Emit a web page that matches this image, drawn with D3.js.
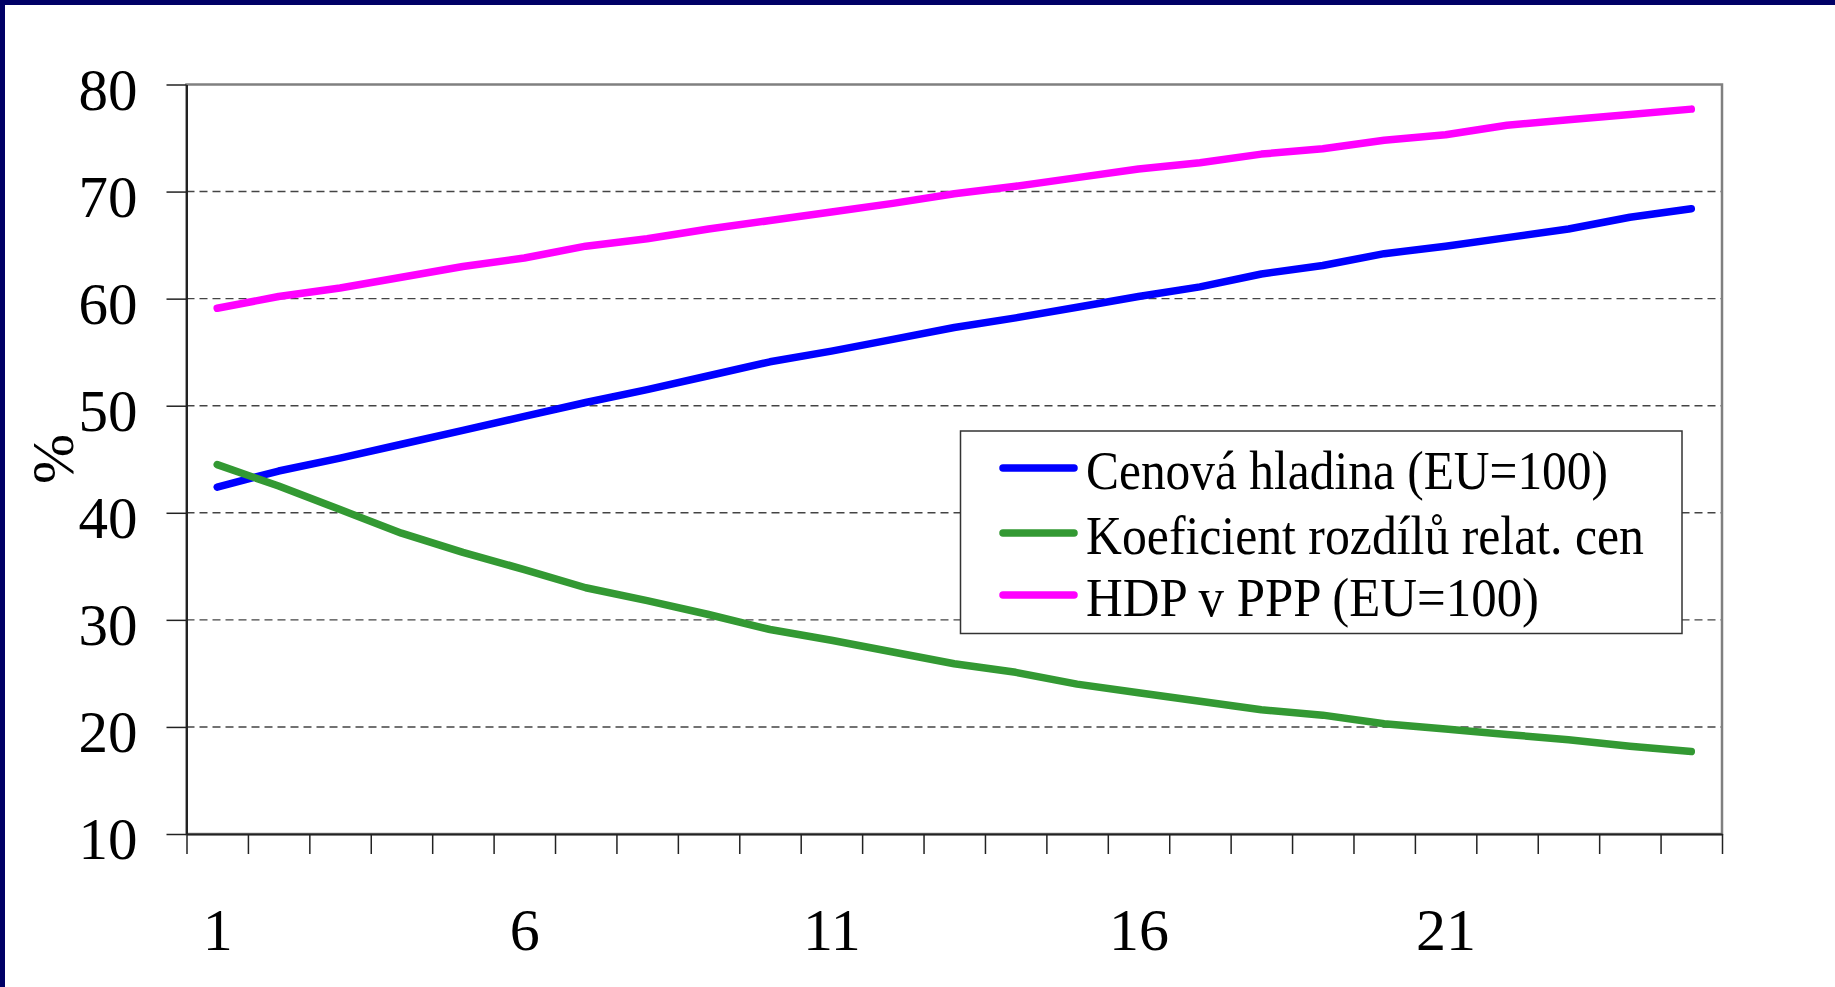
<!DOCTYPE html>
<html>
<head>
<meta charset="utf-8">
<script src="https://cdn.jsdelivr.net/npm/d3@7"></script>
<style>
  html, body { margin: 0; padding: 0; background: #fff; }
  svg { display: block; }
  text { font-family: "Liberation Serif", "Times New Roman", serif; fill: #000; }
</style>
</head>
<body>
<svg id="chart" width="1835" height="987"></svg>
<script>
// Period index (1..25)
const periods = d3.range(1, 26);
const xTickLabels = [1, 6, 11, 16, 21];
const yTicks = [10, 20, 30, 40, 50, 60, 70, 80];

const seriesNames = [
  "Cenová hladina (EU=100)",
  "Koeficient rozdílů relat. cen",
  "HDP v PPP (EU=100)"
];

// Price level relative to EU (EU=100)
const cenovaHladina = [42.4, 43.9, 45.1, 46.4, 47.7, 49.0, 50.3, 51.5, 52.8, 54.1,
                       55.1, 56.2, 57.3, 58.2, 59.2, 60.2, 61.1, 62.3, 63.1, 64.2,
                       64.9, 65.7, 66.5, 67.6, 68.4];
// Coefficient of relative price differences
const koeficient = [44.5, 42.5, 40.3, 38.1, 36.3, 34.7, 33.0, 31.8, 30.5, 29.1,
                    28.1, 27.0, 25.9, 25.1, 24.0, 23.2, 22.4, 21.6, 21.1, 20.3,
                    19.8, 19.3, 18.8, 18.2, 17.7];
// GDP in PPP relative to EU (EU=100)
const hdpPPP = [59.1, 60.2, 61.0, 62.0, 63.0, 63.8, 64.9, 65.6, 66.5, 67.3,
                68.1, 68.9, 69.8, 70.5, 71.3, 72.1, 72.7, 73.5, 74.0, 74.8,
                75.3, 76.2, 76.7, 77.2, 77.7];

const seriesColors = ["#0000ff", "#339933", "#ff00ff"];
const seriesValues = [cenovaHladina, koeficient, hdpPPP];

const svg = d3.select("#chart");
const W = 1835, H = 987;

// Slide frame: navy edge along top and left
svg.append("rect").attr("x", 0).attr("y", 0).attr("width", W).attr("height", H).attr("fill", "#fff");
svg.append("rect").attr("x", 0).attr("y", 0).attr("width", W).attr("height", 5).attr("fill", "#000066");
svg.append("rect").attr("x", 0).attr("y", 0).attr("width", 5).attr("height", H).attr("fill", "#000066");

const plot = { left: 186.5, right: 1722, top: 84.5, bottom: 834 };

// Categories sit in the middle of equal-width slots
const x = d3.scaleLinear().domain([0.5, 25.5]).range([plot.left, plot.right]);
const y = d3.scaleLinear().domain([10, 80]).range([plot.bottom, plot.top]);

// Dashed horizontal gridlines
svg.append("g")
  .selectAll("line")
  .data(yTicks.filter(v => v > 10 && v < 80))
  .join("line")
  .attr("x1", plot.left).attr("x2", plot.right)
  .attr("y1", d => y(d)).attr("y2", d => y(d))
  .attr("stroke", "#444").attr("stroke-width", 1.4)
  .attr("stroke-dasharray", "8,5");

// Plot area frame
svg.append("rect")
  .attr("x", plot.left).attr("y", plot.top)
  .attr("width", plot.right - plot.left).attr("height", plot.bottom - plot.top)
  .attr("fill", "none").attr("stroke", "#808080").attr("stroke-width", 2.5);

// Y axis
const yAxis = svg.append("g")
  .attr("transform", `translate(${plot.left},0)`)
  .call(d3.axisLeft(y).tickValues(yTicks).tickSize(20).tickPadding(29).tickSizeOuter(0));
yAxis.select(".domain").attr("stroke", "#222").attr("stroke-width", 2);
yAxis.selectAll(".tick line").attr("stroke", "#222").attr("stroke-width", 1.5);
yAxis.selectAll(".tick text")
  .attr("font-size", 59)
  .attr("font-family", "'Liberation Serif', 'Times New Roman', serif")
  .attr("dy", "0.42em");

// X axis: tick marks on slot boundaries
const xAxisTicks = svg.append("g")
  .attr("transform", `translate(0,${plot.bottom})`)
  .call(d3.axisBottom(x).tickValues(d3.range(0.5, 26, 1)).tickFormat("").tickSize(20).tickSizeOuter(0));
xAxisTicks.select(".domain").attr("stroke", "#222").attr("stroke-width", 2);
xAxisTicks.selectAll(".tick line").attr("stroke", "#222").attr("stroke-width", 1.5);

// X axis labels under every fifth period
const xAxisLabels = svg.append("g")
  .attr("transform", `translate(0,${plot.bottom})`)
  .call(d3.axisBottom(x).tickValues(xTickLabels).tickSize(0).tickPadding(73));
xAxisLabels.select(".domain").remove();
xAxisLabels.selectAll(".tick text")
  .attr("font-size", 60)
  .attr("font-family", "'Liberation Serif', 'Times New Roman', serif");

// Y axis title
svg.append("text")
  .attr("transform", "translate(73,459) rotate(-90)")
  .attr("text-anchor", "middle")
  .attr("font-size", 60)
  .text("%");

// Series lines
const line = d3.line()
  .x((d, i) => x(periods[i]))
  .y(d => y(d));

svg.append("g")
  .selectAll("path")
  .data(seriesValues)
  .join("path")
  .attr("d", d => line(d))
  .attr("fill", "none")
  .attr("stroke", (d, i) => seriesColors[i])
  .attr("stroke-width", 7.5)
  .attr("stroke-linecap", "round")
  .attr("stroke-linejoin", "round");

// Legend
const legend = svg.append("g");
legend.append("rect")
  .attr("x", 960.5).attr("y", 431)
  .attr("width", 721.5).attr("height", 202.5)
  .attr("fill", "#fff").attr("stroke", "#333").attr("stroke-width", 1.5);

const legendRowY = [468, 533, 595];
const legendTextWidth = [522, 558, 453];
const entries = legend.selectAll("g.entry")
  .data(seriesNames)
  .join("g")
  .attr("class", "entry");

entries.append("line")
  .attr("x1", 1003).attr("x2", 1074)
  .attr("y1", (d, i) => legendRowY[i]).attr("y2", (d, i) => legendRowY[i])
  .attr("stroke", (d, i) => seriesColors[i])
  .attr("stroke-width", 7.5)
  .attr("stroke-linecap", "round");

entries.append("text")
  .attr("x", 1086)
  .attr("y", (d, i) => legendRowY[i] + 21)
  .attr("font-size", 55)
  .attr("textLength", (d, i) => legendTextWidth[i])
  .attr("lengthAdjust", "spacingAndGlyphs")
  .text(d => d);
</script>
</body>
</html>
